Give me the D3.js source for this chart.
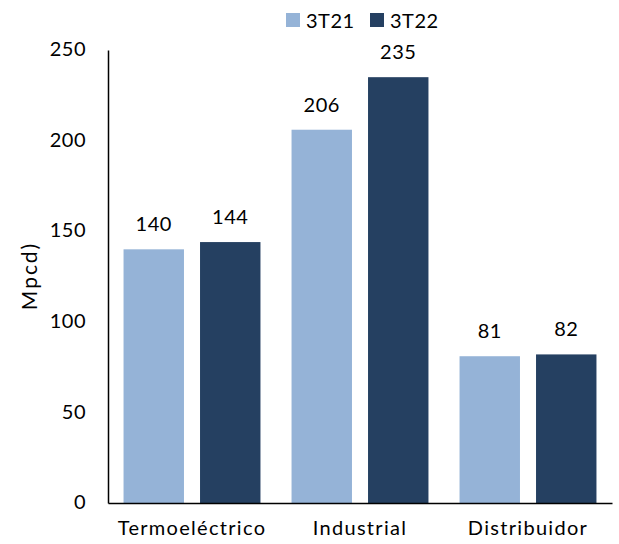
<!DOCTYPE html>
<html>
<head>
<meta charset="utf-8">
<script src="https://cdn.jsdelivr.net/npm/d3@7"></script>
<style>
  html, body { margin: 0; padding: 0; background: #fff; }
  svg text { font-family: Lato, "Open Sans", sans-serif; fill: #000; }
</style>
</head>
<body>
<svg id="chart" width="619" height="544"></svg>
<script>
// Gas demand by sector, third quarter comparison
const categories = ["Termoeléctrico", "Industrial", "Distribuidor"];
const seriesNames = ["3T21", "3T22"];
const values3T21 = [140, 206, 81];
const values3T22 = [144, 235, 82];
const yTicks = [0, 50, 100, 150, 200, 250];
const colors = ["#95B3D7", "#254061"];

const seriesValues = [values3T21, values3T22];
const rows = categories.map((c, i) => ({
  category: c,
  vals: seriesNames.map((s, j) => ({ series: s, value: seriesValues[j][i] }))
}));

const svg = d3.select("#chart");
const plotLeft = 108, plotRight = 612, plotTop = 50, plotBottom = 503;
const fontSize = 20;
const fontFamily = "Lato, 'Open Sans', sans-serif";

const y = d3.scaleLinear().domain([0, 250]).range([plotBottom, plotTop]);
const x0 = d3.scaleBand().domain(categories).range([plotLeft, plotRight])
  .paddingInner(0.185).paddingOuter(0.0925);
const x1 = d3.scaleBand().domain(seriesNames).range([0, x0.bandwidth()])
  .paddingInner(0.21);
const color = d3.scaleOrdinal().domain(seriesNames).range(colors);

// bars
const groups = svg.append("g").selectAll("g").data(rows).join("g")
  .attr("transform", d => `translate(${x0(d.category)},0)`);

groups.selectAll("rect").data(d => d.vals).join("rect")
  .attr("x", d => x1(d.series))
  .attr("y", d => y(d.value))
  .attr("width", x1.bandwidth())
  .attr("height", d => y(0) - y(d.value))
  .attr("fill", d => color(d.series));

// value labels
groups.selectAll("text.val").data(d => d.vals).join("text")
  .attr("class", "val")
  .attr("x", d => x1(d.series) + x1.bandwidth() / 2)
  .attr("y", d => y(d.value) - 26)
  .attr("text-anchor", "middle")
  .attr("dominant-baseline", "central")
  .style("font-size", fontSize + "px")
  .style("letter-spacing", "0.5px")
  .text(d => d.value);

// y axis
const yAxis = svg.append("g")
  .attr("transform", `translate(${plotLeft},0)`)
  .call(d3.axisLeft(y).tickValues(yTicks).tickSize(0).tickPadding(22));
yAxis.select(".domain").attr("stroke", "#000").attr("stroke-width", 1.5);
yAxis.selectAll("text")
  .style("font-size", fontSize + "px")
  .style("font-family", fontFamily)
  .style("letter-spacing", "0.5px")
  .attr("dy", "0.28em");

// x axis
const xAxis = svg.append("g")
  .attr("transform", `translate(0,${plotBottom})`)
  .call(d3.axisBottom(x0).tickSize(0).tickPadding(18));
xAxis.select(".domain").attr("stroke", "#000").attr("stroke-width", 1.5);
xAxis.selectAll("text")
  .style("font-size", fontSize + "px")
  .style("font-family", fontFamily)
  .style("letter-spacing", "1.3px");

// y axis title
svg.append("text")
  .attr("transform", "translate(28,276) rotate(-90)")
  .attr("text-anchor", "middle")
  .attr("dominant-baseline", "central")
  .style("font-size", "21px")
  .style("letter-spacing", "2px")
  .text("Mpcd)");

// legend
const legend = svg.append("g");
const legendX = [286, 370];
seriesNames.forEach((s, i) => {
  legend.append("rect")
    .attr("x", legendX[i]).attr("y", 13)
    .attr("width", 14).attr("height", 14)
    .attr("fill", color(s));
  legend.append("text")
    .attr("x", legendX[i] + 20).attr("y", 20)
    .attr("dominant-baseline", "central")
    .style("font-size", fontSize + "px")
    .style("letter-spacing", "0.5px")
    .text(s);
});
</script>
</body>
</html>
